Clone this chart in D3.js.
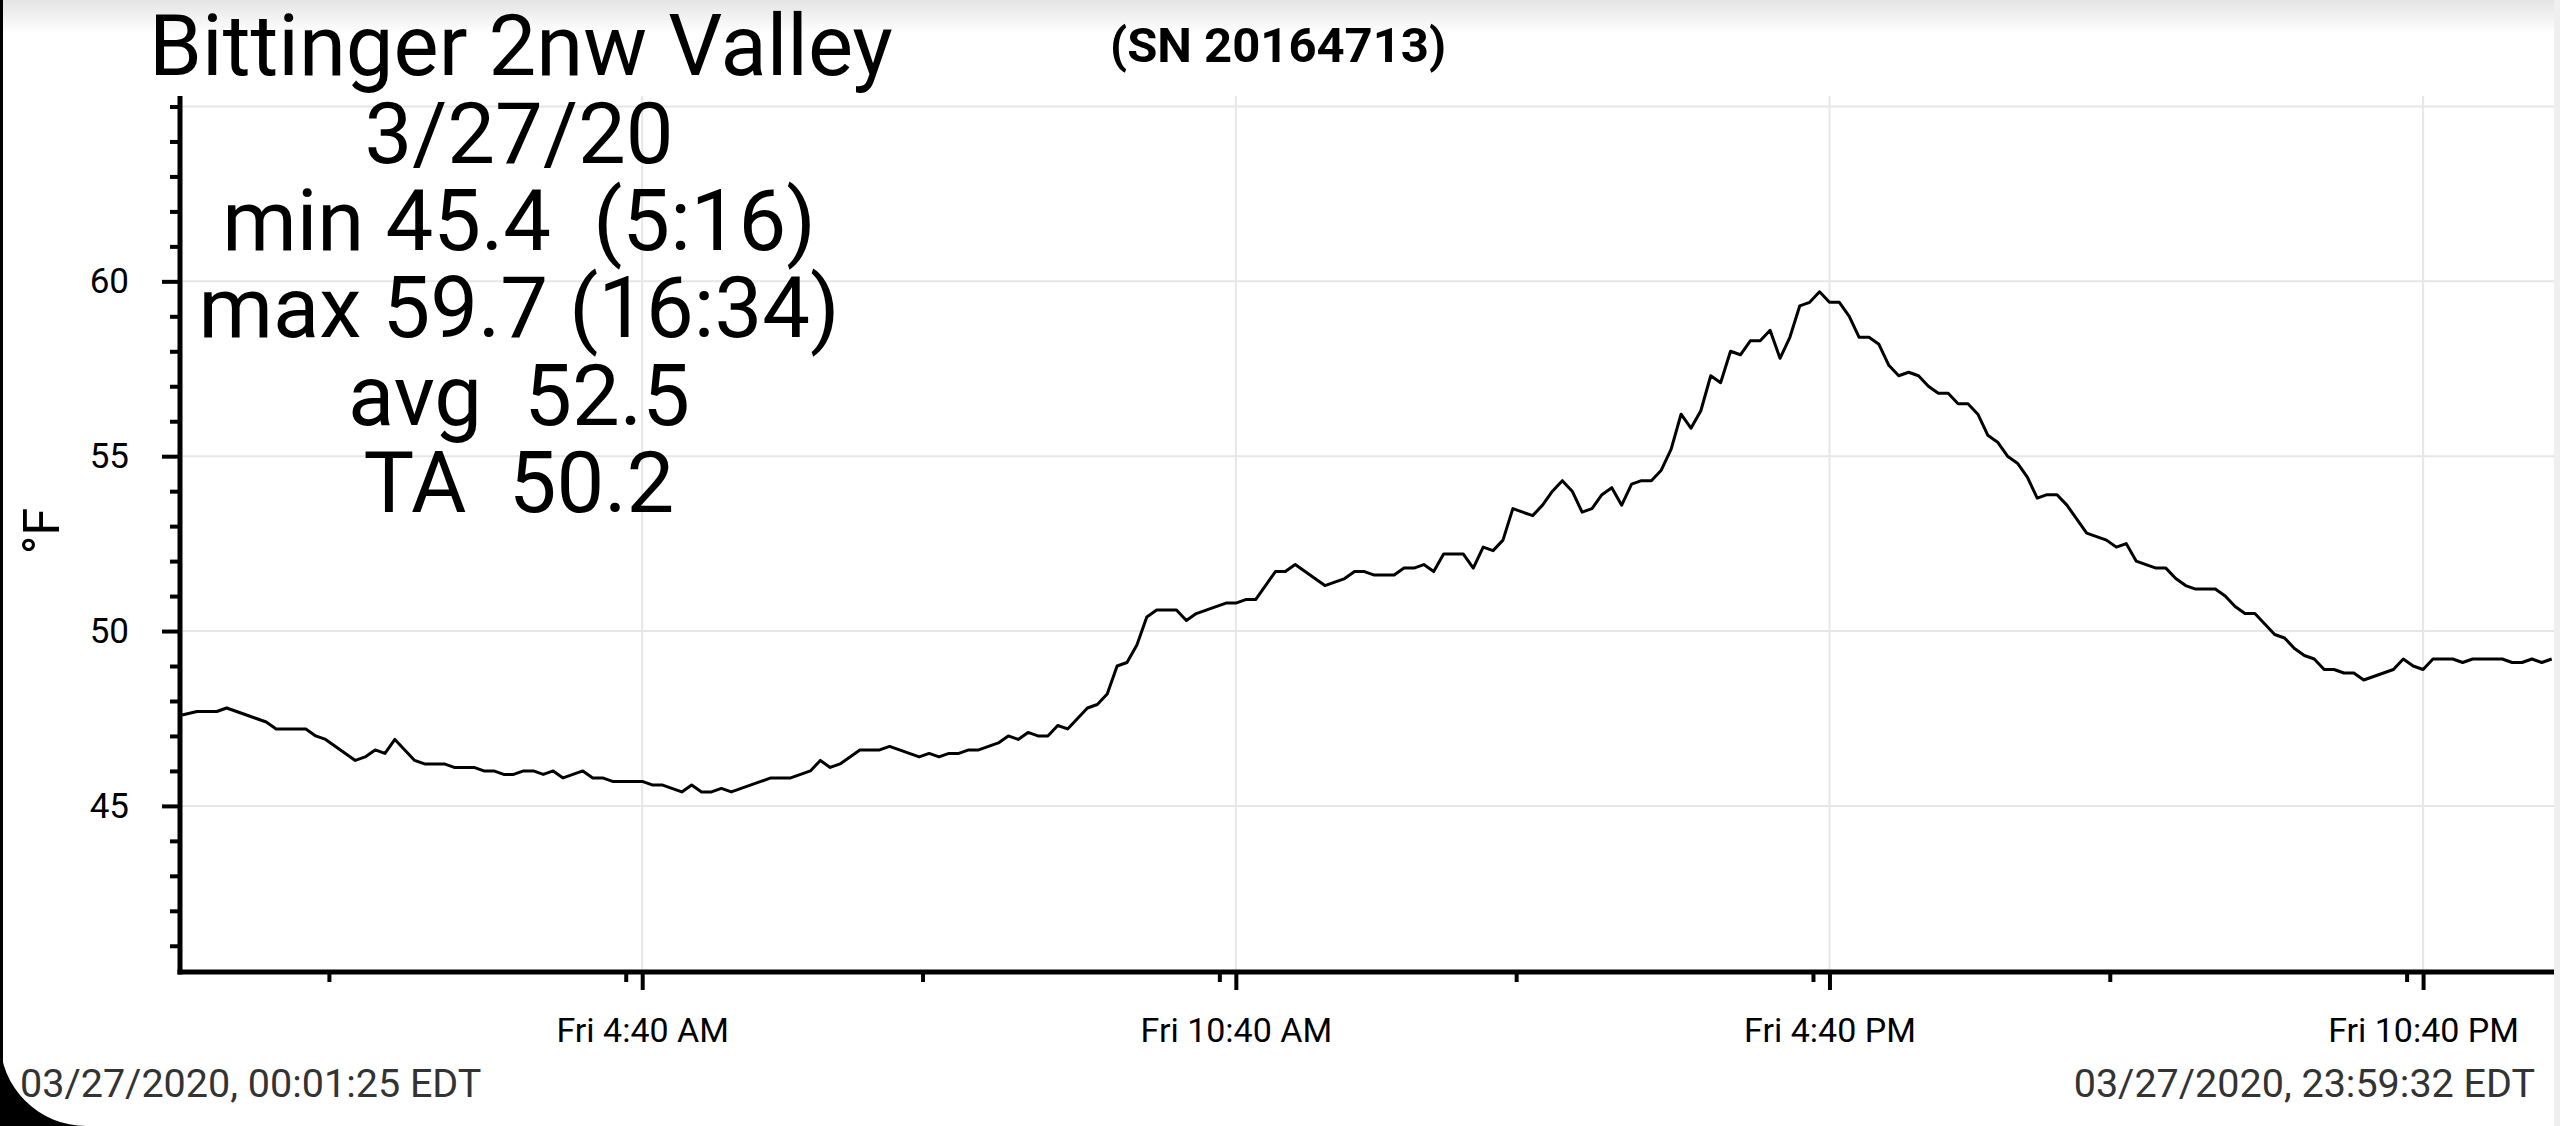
<!doctype html>
<html>
<head>
<meta charset="utf-8" />
<title>Bittinger 2nw Valley</title>
<script src="https://d3js.org/d3.v7.min.js"></script>
<style>
  body{
    margin: 0;
    background: #fff;
  }
  svg{
    display: block;
    font-family: Roboto, "Noto Sans", sans-serif;
  }
  .stat{
    white-space: pre;
  }
</style>
</head>
<body>
<script>
// one day of readings
var day = "03/27/2020";

var readTimes = [
  "00:01","00:10","00:22","00:28","00:34","00:40","00:46","00:52","00:58","01:04",
  "01:10","01:16","01:22","01:28","01:34","01:40","01:46","01:52","01:58","02:04",
  "02:10","02:16","02:22","02:28","02:40","02:46","02:58","03:04","03:10","03:16",
  "03:22","03:28","03:34","03:40","03:46","03:52","03:58","04:04","04:10","04:16",
  "04:22","04:28","04:40","04:46","04:52","04:58","05:04","05:10","05:16","05:22",
  "05:28","05:34","05:40","05:46","05:52","05:58","06:04","06:10","06:16","06:22",
  "06:28","06:34","06:40","06:46","06:52","07:04","07:10","07:16","07:22","07:28",
  "07:34","07:40","07:46","07:52","07:58","08:04","08:10","08:16","08:22","08:28",
  "08:34","08:40","08:46","08:52","08:58","09:04","09:10","09:16","09:22","09:28",
  "09:34","09:40","09:46","09:52","10:04","10:10","10:16","10:22","10:28","10:34",
  "10:40","10:46","10:52","10:58","11:04","11:10","11:16","11:22","11:28","11:34",
  "11:40","11:46","11:52","11:58","12:04","12:10","12:16","12:22","12:28","12:34",
  "12:40","12:46","12:52","12:58","13:04","13:10","13:16","13:22","13:28","13:34",
  "13:40","13:46","13:52","13:58","14:04","14:10","14:16","14:22","14:28","14:34",
  "14:40","14:46","14:52","14:58","15:04","15:10","15:16","15:22","15:28","15:34",
  "15:40","15:46","15:52","15:58","16:04","16:10","16:16","16:22","16:28","16:34",
  "16:40","16:46","16:52","16:58","17:04","17:10","17:16","17:22","17:28","17:34",
  "17:40","17:46","17:52","17:58","18:04","18:10","18:16","18:22","18:28","18:34",
  "18:40","18:46","18:52","18:58","19:04","19:10","19:16","19:22","19:28","19:34",
  "19:40","19:46","19:52","19:58","20:04","20:10","20:16","20:22","20:28","20:34",
  "20:40","20:46","20:52","20:58","21:04","21:10","21:16","21:22","21:28","21:34",
  "21:40","21:46","21:52","21:58","22:04","22:10","22:16","22:22","22:28","22:34",
  "22:40","22:46","22:52","22:58","23:04","23:10","23:16","23:22","23:28","23:34",
  "23:40","23:46","23:52","23:58"
];

var tempF = [
  47.6,47.7,47.7,47.8,47.7,47.6,47.5,47.4,47.2,47.2,
  47.2,47.2,47.0,46.9,46.7,46.5,46.3,46.4,46.6,46.5,
  46.9,46.6,46.3,46.2,46.2,46.1,46.1,46.0,46.0,45.9,
  45.9,46.0,46.0,45.9,46.0,45.8,45.9,46.0,45.8,45.8,
  45.7,45.7,45.7,45.6,45.6,45.5,45.4,45.6,45.4,45.4,
  45.5,45.4,45.5,45.6,45.7,45.8,45.8,45.8,45.9,46.0,
  46.3,46.1,46.2,46.4,46.6,46.6,46.7,46.6,46.5,46.4,
  46.5,46.4,46.5,46.5,46.6,46.6,46.7,46.8,47.0,46.9,
  47.1,47.0,47.0,47.3,47.2,47.5,47.8,47.9,48.2,49.0,
  49.1,49.6,50.4,50.6,50.6,50.3,50.5,50.6,50.7,50.8,
  50.8,50.9,50.9,51.3,51.7,51.7,51.9,51.7,51.5,51.3,
  51.4,51.5,51.7,51.7,51.6,51.6,51.6,51.8,51.8,51.9,
  51.7,52.2,52.2,52.2,51.8,52.4,52.3,52.6,53.5,53.4,
  53.3,53.6,54.0,54.3,54.0,53.4,53.5,53.9,54.1,53.6,
  54.2,54.3,54.3,54.6,55.2,56.2,55.8,56.3,57.3,57.1,
  58.0,57.9,58.3,58.3,58.6,57.8,58.4,59.3,59.4,59.7,
  59.4,59.4,59.0,58.4,58.4,58.2,57.6,57.3,57.4,57.3,
  57.0,56.8,56.8,56.5,56.5,56.2,55.6,55.4,55.0,54.8,
  54.4,53.8,53.9,53.9,53.6,53.2,52.8,52.7,52.6,52.4,
  52.5,52.0,51.9,51.8,51.8,51.5,51.3,51.2,51.2,51.2,
  51.0,50.7,50.5,50.5,50.2,49.9,49.8,49.5,49.3,49.2,
  48.9,48.9,48.8,48.8,48.6,48.7,48.8,48.9,49.2,49.0,
  48.9,49.2,49.2,49.2,49.1,49.2,49.2,49.2,49.2,49.1,
  49.1,49.2,49.1,49.2
];

var majorTimes = ["04:40", "10:40", "16:40", "22:40"];
var minorTimes = ["01:30", "04:30", "07:30", "10:30", "13:30", "16:30", "19:30", "22:30"];
var majorTemps = [45, 50, 55, 60];
var minorTemps = [41, 42, 43, 44, 46, 47, 48, 49, 51, 52, 53, 54, 56, 57, 58, 59, 61, 62, 63, 64, 65];
var gridTemps = [45, 50, 55, 60, 65];

var stationName = "Bittinger 2nw Valley";
var serialText = "(SN 20164713)";
var statLines = ["3/27/20", "min 45.4  (5:16)", "max 59.7 (16:34)", "avg  52.5", "TA  50.2"];
var unitLabel = "°F";
var footerStart = "03/27/2020, 00:01:25 EDT";
var footerEnd = "03/27/2020, 23:59:32 EDT";

function dayChart(){
  var W = 2560, H = 1126;
  var parseT = d3.timeParse("%m/%d/%Y %H:%M");
  var t = s => parseT(day + " " + s);

  var data = readTimes.map((s, i) => ({t: t(s), v: tempF[i]}));

  var svg = d3.select("body").append("svg").attr("width", W).attr("height", H);

  var dayStart = t("00:00");
  var xScale = d3.scaleTime().domain([dayStart, d3.timeDay.offset(dayStart, 1)]).range([180.5, 2555]);
  var yScale = d3.scaleLinear().domain([40.25, 65.3]).range([972, 96]);

  // screen frame bits
  var grad = svg.append("defs").append("linearGradient")
    .attr("id", "topShade").attr("x1", 0).attr("y1", 0).attr("x2", 0).attr("y2", 1);
  grad.append("stop").attr("offset", "0%").attr("stop-color", "#e4e4e4");
  grad.append("stop").attr("offset", "100%").attr("stop-color", "#ffffff");
  svg.append("rect").attr("x", 0).attr("y", 0).attr("width", W).attr("height", 34).attr("fill", "url(#topShade)");
  svg.append("rect").attr("x", 2554).attr("y", 0).attr("width", 6).attr("height", H).attr("fill", "#efefef");

  // grid
  svg.append("g").selectAll("line").data(gridTemps).enter().append("line")
    .attr("x1", 180).attr("x2", 2554)
    .attr("y1", d => yScale(d)).attr("y2", d => yScale(d))
    .attr("stroke", "#e6e6e6").attr("stroke-width", 2);
  svg.append("g").selectAll("line").data(majorTimes).enter().append("line")
    .attr("x1", d => xScale(t(d))).attr("x2", d => xScale(t(d)))
    .attr("y1", 96).attr("y2", 972)
    .attr("stroke", "#e6e6e6").attr("stroke-width", 2);

  // temperature trace
  var line = d3.line().x(d => xScale(d.t)).y(d => yScale(d.v));
  svg.append("path").datum(data)
    .attr("d", line)
    .attr("fill", "none")
    .attr("stroke", "#000")
    .attr("stroke-width", 3)
    .attr("stroke-linejoin", "round");

  // y axis
  var yMinor = d3.axisLeft(yScale).tickValues(minorTemps).tickSize(10).tickFormat("");
  var yMajor = d3.axisLeft(yScale).tickValues(majorTemps).tickSize(18).tickPadding(33).tickFormat(d3.format("d"));
  svg.append("g").attr("transform", "translate(180,0)").call(yMinor);
  svg.append("g").attr("class", "yMajor").attr("transform", "translate(180,0)").call(yMajor);

  // x axis
  var xMinor = d3.axisBottom(xScale).tickValues(minorTimes.map(t)).tickSize(10).tickFormat("");
  var xMajor = d3.axisBottom(xScale).tickValues(majorTimes.map(t)).tickSize(18).tickFormat(d3.timeFormat("%a %-I:%M %p"));
  svg.append("g").attr("transform", "translate(0,972)").call(xMinor);
  svg.append("g").attr("class", "xMajor").attr("transform", "translate(0,972)").call(xMajor);

  svg.selectAll(".domain").remove();
  svg.selectAll(".tick line").attr("stroke", "#000").attr("stroke-width", 4);
  svg.selectAll(".yMajor text").attr("font-size", 35).attr("fill", "#000").attr("font-family", "Roboto");
  svg.selectAll(".xMajor text").attr("font-size", 34).attr("fill", "#000").attr("font-family", "Roboto")
    .attr("dy", null).attr("y", 70);

  svg.append("line").attr("x1", 180).attr("x2", 180).attr("y1", 96).attr("y2", 974.5)
    .attr("stroke", "#000").attr("stroke-width", 5);
  svg.append("line").attr("x1", 177.5).attr("x2", 2554).attr("y1", 972).attr("y2", 972)
    .attr("stroke", "#000").attr("stroke-width", 5);

  svg.append("text")
    .attr("transform", "translate(59,531) rotate(-90)")
    .attr("text-anchor", "middle")
    .attr("font-size", 50)
    .text(unitLabel);

  // headings
  svg.append("text").attr("x", 149).attr("y", 75).attr("font-size", 85).text(stationName);
  svg.append("text").attr("x", 1110).attr("y", 62).attr("font-size", 49).attr("font-weight", "bold").text(serialText);

  svg.append("g").selectAll("text").data(statLines).enter().append("text")
    .attr("class", "stat")
    .attr("x", 519)
    .attr("y", (d, i) => 163 + i * 87.2)
    .attr("text-anchor", "middle")
    .attr("font-size", 85)
    .text(d => d);

  svg.append("text").attr("x", 20).attr("y", 1097).attr("font-size", 39.5).attr("fill", "#333").text(footerStart);
  svg.append("text").attr("x", 2535).attr("y", 1097).attr("font-size", 39.5).attr("fill", "#333")
    .attr("text-anchor", "end").text(footerEnd);

  // rounded screen corner and left bezel
  svg.append("rect").attr("x", 0).attr("y", 0).attr("width", 3).attr("height", H).attr("fill", "#000");
  svg.append("path").attr("d", "M0,1040 A86,86 0 0,0 86,1126 L0,1126 Z").attr("fill", "#000");
}

dayChart();
</script>
</body>
</html>
